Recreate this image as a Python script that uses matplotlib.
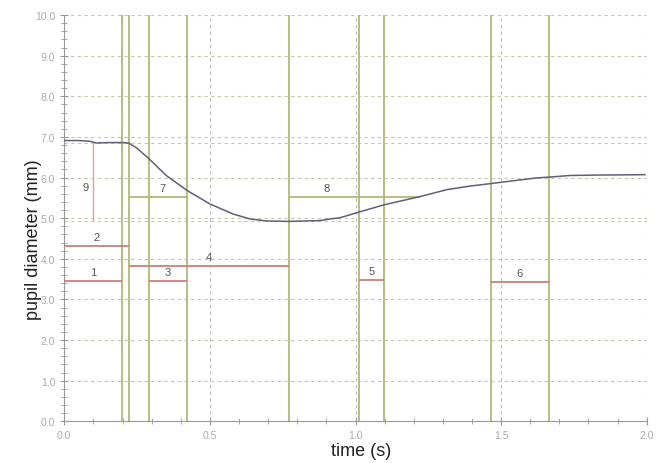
import numpy as np
import matplotlib
matplotlib.use("Agg")
import matplotlib.pyplot as plt
from matplotlib.ticker import MultipleLocator

plt.rcParams['font.family'] = ['Liberation Sans', 'DejaVu Sans']

# pupil trace
t_curve = [0.0, 0.05, 0.09, 0.11, 0.15, 0.2, 0.221, 0.25, 0.291, 0.35, 0.422, 0.5,
           0.58, 0.638, 0.695, 0.771, 0.878, 0.912, 0.947, 1.012, 1.099, 1.221,
           1.313, 1.393, 1.464, 1.553, 1.622, 1.664, 1.736, 1.828, 1.994]
d_curve = [6.91, 6.91, 6.89, 6.85, 6.86, 6.86, 6.85, 6.72, 6.46, 6.05, 5.68, 5.35,
           5.10, 4.98, 4.93, 4.92, 4.94, 4.98, 5.01, 5.15, 5.33, 5.53,
           5.70, 5.79, 5.85, 5.93, 5.99, 6.01, 6.05, 6.06, 6.07]

# event markers (vertical green lines)
markers = [0.199, 0.221, 0.291, 0.422, 0.771, 1.012, 1.099, 1.464, 1.664]

# red interval bars: label, start, end, level
red_labels = ["1", "2", "3", "4", "5", "6"]
red_start = [0.0, 0.0, 0.291, 0.221, 1.012, 1.464]
red_end = [0.199, 0.221, 0.422, 0.771, 1.099, 1.664]
red_level = [3.45, 4.32, 3.45, 3.82, 3.47, 3.43]

# green interval bars
green_labels = ["7", "8"]
green_start = [0.221, 0.771]
green_end = [0.422, 1.221]
green_level = [5.53, 5.53]
green_label_x = [0.338, 0.902]

baseline = 6.85
minimum = 4.92
amp_t = 0.099

olive = "#b4b67a"
red = "#c98078"
grid_h = "#c6c6ac"
grid_v = "#bdbdbd"
txt = "#555555"

fig = plt.figure(figsize=(6.69, 4.64), dpi=100)
ax = fig.add_axes([0.0961, 0.0899, 0.8706, 0.8756])

ax.set_xlim(0, 2.0)
ax.set_ylim(0, 10.0)

dash = (0, (3, 3))
# grid
for yv in np.arange(1.0, 10.01, 1.0):
    ax.axhline(yv, color=grid_h, lw=0.8, ls=dash, zorder=1)
for xv in [0.5, 1.0, 1.5, 2.0]:
    ax.axvline(xv, color=grid_v, lw=0.8, ls=dash, zorder=1)
ax.axhline(baseline, color=grid_h, lw=0.8, ls=dash, zorder=1)
ax.axhline(minimum, color=grid_h, lw=0.8, ls=dash, zorder=1)

for m in markers:
    ax.axvline(m, color=olive, lw=1.3, zorder=2)

for lab, s, e, lv in zip(red_labels, red_start, red_end, red_level):
    ax.hlines(lv, s, e, color=red, lw=1.3, zorder=3)
    ax.text((s + e) / 2, lv + 0.1, lab, ha="center", va="bottom", fontsize=8, color=txt)

for lab, s, e, lv, lx in zip(green_labels, green_start, green_end, green_level, green_label_x):
    ax.hlines(lv, s, e, color=olive, lw=1.3, zorder=3)
    ax.text(lx, lv + 0.1, lab, ha="center", va="bottom", fontsize=8, color=txt)

ax.vlines(amp_t, minimum, baseline, color="#d8a8a4", lw=1.0, zorder=3)
ax.text(0.072, 5.76, "9", ha="center", va="center", fontsize=8, color=txt)

ax.plot(t_curve, d_curve, color="#5c6078", lw=1.1, zorder=4)

ax.xaxis.set_major_locator(MultipleLocator(0.5))
ax.xaxis.set_minor_locator(MultipleLocator(0.1))
ax.yaxis.set_major_locator(MultipleLocator(1.0))
ax.yaxis.set_minor_locator(MultipleLocator(0.2))
ax.xaxis.set_major_formatter(matplotlib.ticker.FormatStrFormatter("%.1f"))
ax.yaxis.set_major_formatter(matplotlib.ticker.FormatStrFormatter("%.1f"))
ax.tick_params(which="both", direction="inout", color="#999999", labelcolor="#aaaaaa",
               labelsize=7.5)
ax.tick_params(which="major", length=6)
ax.tick_params(which="minor", length=4)

for sp in ["top", "right"]:
    ax.spines[sp].set_visible(False)
for sp in ["left", "bottom"]:
    ax.spines[sp].set_color("#999999")

ax.set_xlabel("time (s)", fontsize=13, color="#222222")
ax.set_ylabel("pupil diameter (mm)", fontsize=13, color="#222222")
ax.xaxis.set_label_coords(0.509, -0.052)
ax.yaxis.set_label_coords(-0.038, 0.449)

plt.savefig("out.png", dpi=100)
